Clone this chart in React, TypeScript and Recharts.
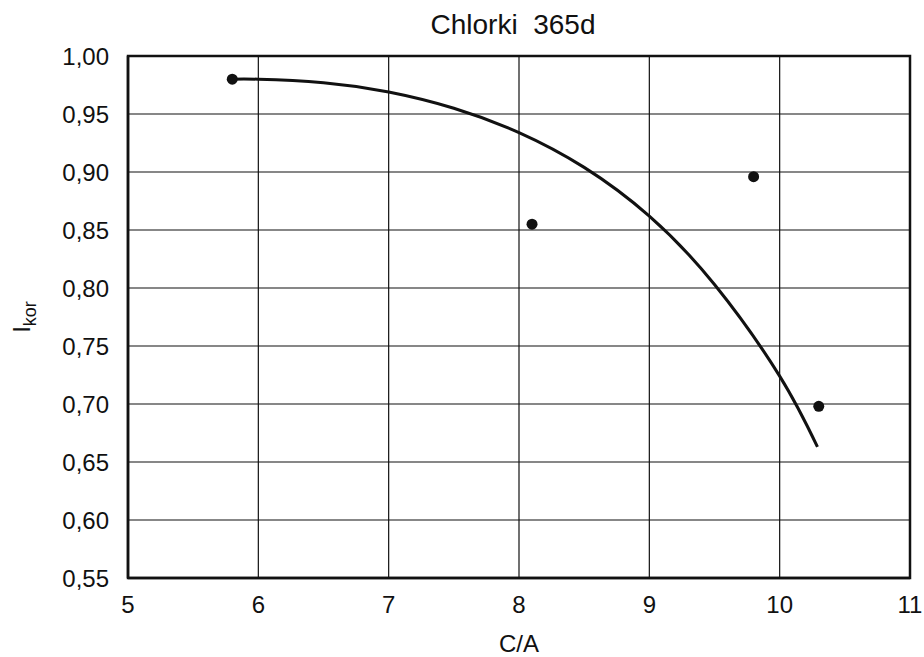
import React from 'react';
import {
  ComposedChart,
  Line,
  Scatter,
  XAxis,
  YAxis,
  CartesianGrid,
  ReferenceArea,
} from 'recharts';

const pointX = [5.8, 8.1, 9.8, 10.3];
const pointY = [0.98, 0.855, 0.896, 0.698];

const curveX = [5.8, 6.0, 6.5, 7.0, 7.5, 8.0, 8.5, 9.0, 9.5, 10.0, 10.29];
const curveY = [0.98, 0.98, 0.977, 0.969, 0.955, 0.934, 0.904, 0.862, 0.803, 0.724, 0.663];

const xTicks = [5, 6, 7, 8, 9, 10, 11];
const yTicks = [0.55, 0.6, 0.65, 0.7, 0.75, 0.8, 0.85, 0.9, 0.95, 1.0];

const title = 'Chlorki  365d';
const xLabel = 'C/A';

const points = pointX.map((x, i) => ({ x, y: pointY[i] }));
const curve = curveX.map((x, i) => ({ x, y: curveY[i] }));

const FONT = '"Liberation Sans", Arial, sans-serif';
const INK = '#111';

const YLabel = (props: any) => {
  const vb = props.viewBox || { x: 0, y: 0, width: 128, height: 0 };
  const cx = vb.x + 30;
  const cy = vb.y + vb.height / 2;
  return (
    <text
      x={cx}
      y={cy}
      transform={`rotate(-90, ${cx}, ${cy})`}
      textAnchor="middle"
      fontFamily={FONT}
      fill={INK}
    >
      <tspan fontSize={24}>I</tspan>
      <tspan fontSize={18} dy={6}>kor</tspan>
    </text>
  );
};

const XLabel = (props: any) => {
  const vb = props.viewBox || { x: 0, y: 0, width: 0, height: 0 };
  return (
    <text
      x={vb.x + vb.width / 2}
      y={vb.y + 74}
      textAnchor="middle"
      fontFamily={FONT}
      fontSize={24}
      fill={INK}
    >
      {xLabel}
    </text>
  );
};

export default function App() {
  return (
    <div style={{ position: 'absolute', left: 0, top: 0, width: 924, height: 657, background: '#fff' }}>
      <div
        style={{
          position: 'absolute',
          left: 128,
          width: 770,
          top: 11,
          textAlign: 'center',
          fontFamily: FONT,
          fontSize: 28,
          lineHeight: '28px',
          whiteSpace: 'pre',
          color: INK,
        }}
      >
        {title}
      </div>
      <ComposedChart
        width={924}
        height={657}
        margin={{ top: 56, right: 14, bottom: 0, left: 0 }}
        style={{ position: 'absolute', left: 0, top: 0 }}
      >
        <CartesianGrid stroke={INK} strokeWidth={1.2} horizontalValues={yTicks} verticalValues={xTicks} />
        <XAxis
          type="number"
          dataKey="x"
          domain={[5, 11]}
          ticks={xTicks}
          allowDataOverflow
          height={79}
          tickLine={false}
          tickSize={0}
          tickMargin={18}
          axisLine={{ stroke: INK, strokeWidth: 2.5 }}
          tick={{ fill: INK, fontSize: 24, fontFamily: FONT }}
          label={<XLabel />}
        />
        <YAxis
          type="number"
          dataKey="y"
          domain={[0.55, 1.0]}
          ticks={yTicks}
          allowDataOverflow
          width={128}
          tickLine={false}
          tickSize={0}
          tickMargin={19}
          axisLine={{ stroke: INK, strokeWidth: 2.5 }}
          tick={{ fill: INK, fontSize: 24, fontFamily: FONT }}
          tickFormatter={(v: number) => v.toFixed(2).replace('.', ',')}
          label={<YLabel />}
        />
        <ReferenceArea
          x1={5}
          x2={11}
          y1={0.55}
          y2={1.0}
          fill="none"
          stroke={INK}
          strokeWidth={2.5}
          ifOverflow="visible"
        />
        <Line
          data={curve}
          dataKey="y"
          type="natural"
          stroke={INK}
          strokeWidth={3}
          dot={false}
          activeDot={false}
          isAnimationActive={false}
        />
        <Scatter
          data={points}
          dataKey="y"
          fill={INK}
          shape={(p: any) => <circle cx={p.cx} cy={p.cy} r={5.5} fill={INK} />}
          isAnimationActive={false}
        />
      </ComposedChart>
    </div>
  );
}
